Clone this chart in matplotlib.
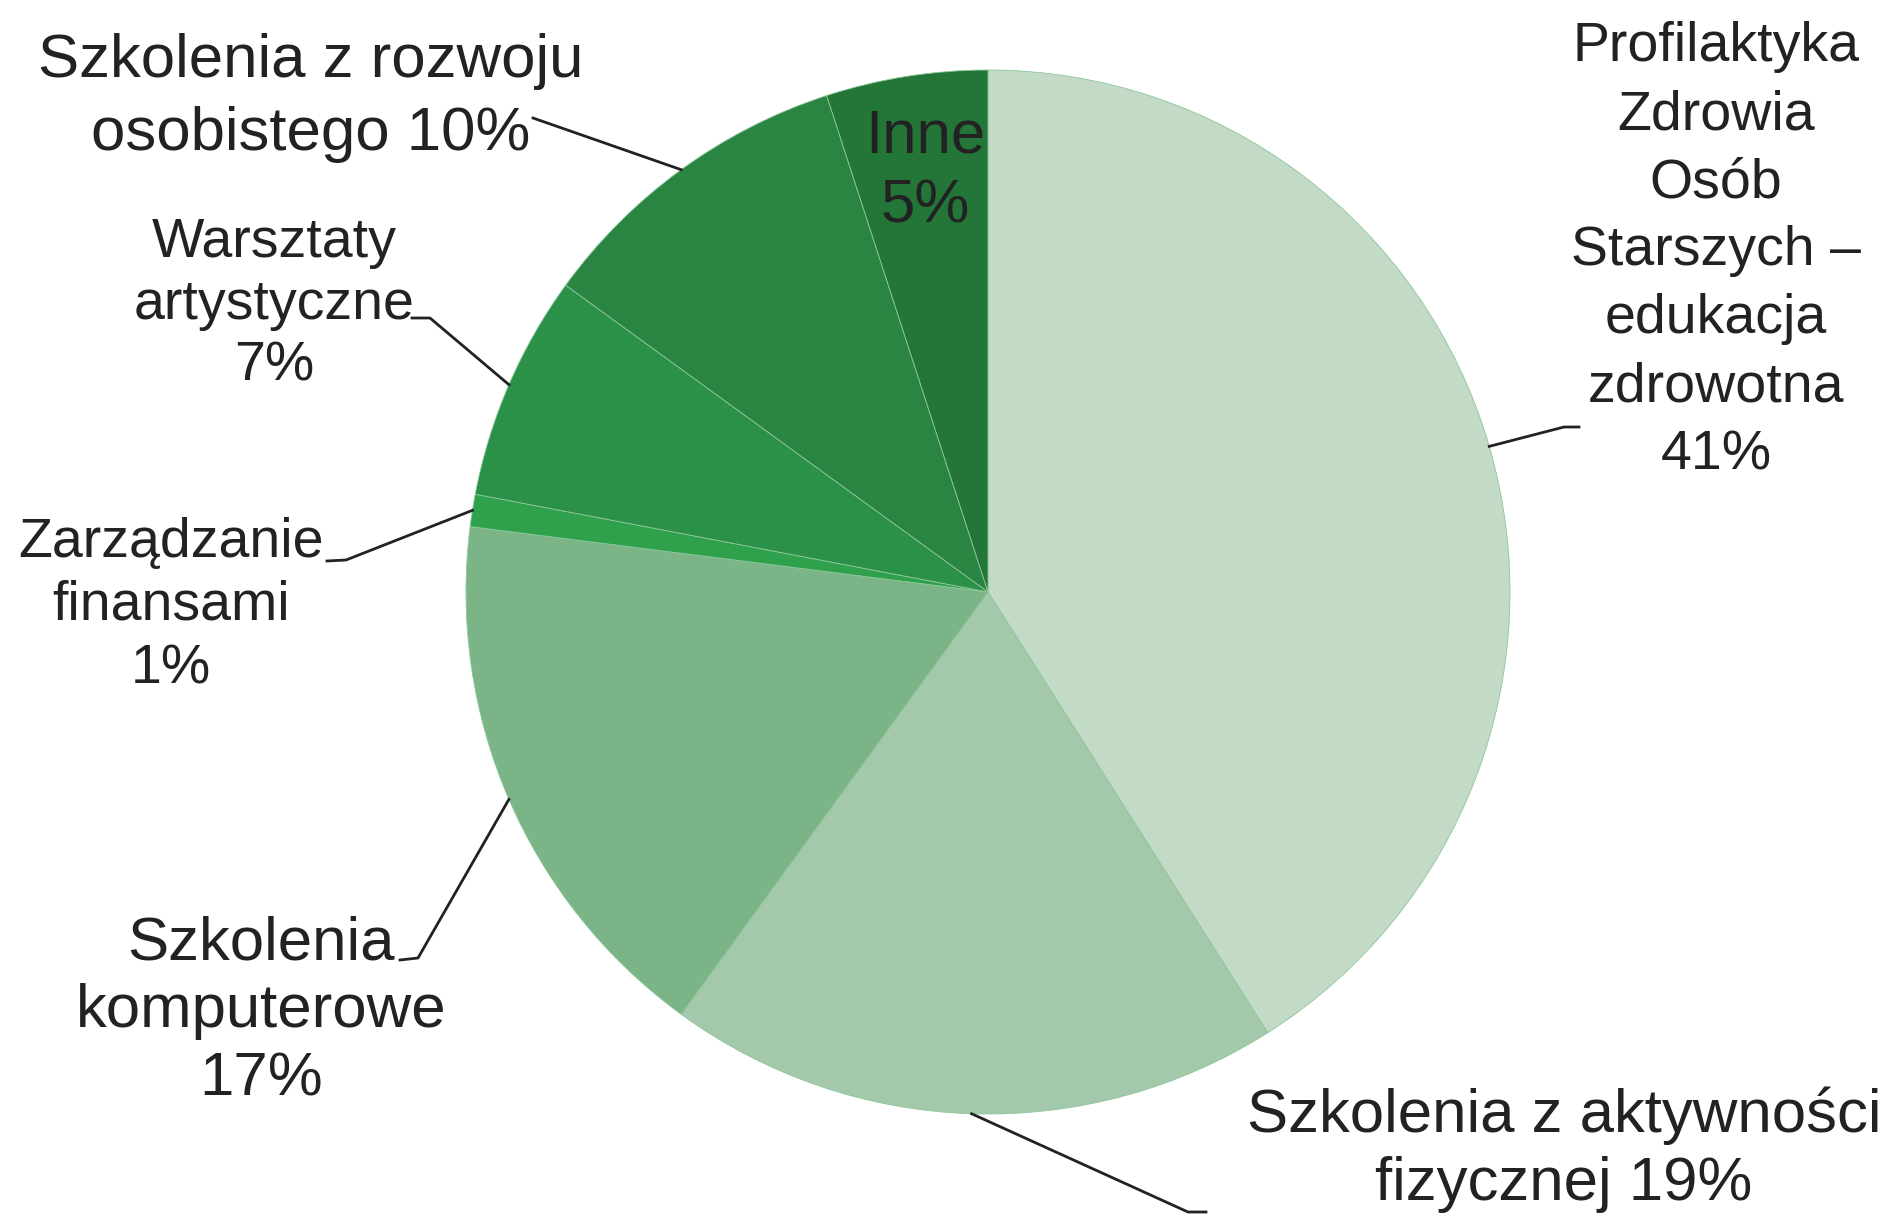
import numpy as np
import matplotlib.pyplot as plt

# -----------------------------
# Data
# -----------------------------
labels = [
    "Profilaktyka\nZdrowia\nOsób\nStarszych –\nedukacja\nzdrowotna",
    "Szkolenia z aktywności\nfizycznej",
    "Szkolenia\nkomputerowe",
    "Zarządzanie\nfinansami",
    "Warsztaty\nartystyczne",
    "Szkolenia z rozwoju\nosobistego",
    "Inne",
]
shares = [41, 19, 17, 1, 7, 10, 5]
colors = ["#c2dac6", "#a3c9aa", "#7ab487", "#2fa04c", "#2b9148", "#2a8543", "#247538"]

# how the percentage joins the name ("\n" = own line, " " = same line)
joiners = ["\n", " ", "\n", "\n", "\n", " ", "\n"]

# label layout in pixels from the top-left corner: (x, y, fontsize, linespacing)
label_pos = [
    (1716, 251, 40, 1.40),
    (1564, 1150, 44.5, 1.24),
    (261, 1012, 44.5, 1.24),
    (171, 606, 40, 1.28),
    (274, 305, 40, 1.24),
    (311, 98, 44.5, 1.35),
    (925, 172, 44.5, 1.31),
]
# leader line elbows (pixels), drawn from the wedge edge
elbows = [
    [(1564, 427), (1579, 427)],
    [(1188, 1212), (1206, 1212)],
    [(418, 958), (400, 960)],
    [(346, 560), (327, 561)],
    [(430, 318), (412, 318)],
    [(533, 118)],
    None,
]

# -----------------------------
# Figure
# -----------------------------
W, H = 1901, 1217
fig = plt.figure(figsize=(W / 100, H / 100), dpi=100)
ax = fig.add_axes([0, 0, 1, 1])

cx, cy, r = 988, H - 592, 522

wedges, _ = ax.pie(shares, colors=colors, startangle=90, counterclock=False,
                   center=(cx, cy), radius=r, frame=True,
                   wedgeprops=dict(edgecolor="#8cc79a", linewidth=0.6))
ax.set_xlim(0, W)
ax.set_ylim(0, H)
ax.set_aspect("equal")
ax.axis("off")

txt_color = "#222222"
for i, w in enumerate(wedges):
    x, y, fs, ls = label_pos[i]
    text = labels[i] + joiners[i] + f"{shares[i]}%"
    ax.text(x, H - y, text, ha="center", va="center", fontsize=fs,
            family="Liberation Sans", color=txt_color, linespacing=ls)
    if elbows[i] is None:
        continue
    # leader line starts at the middle of the wedge's outer edge
    mid = np.deg2rad((w.theta1 + w.theta2) / 2)
    pts = [(cx + r * np.cos(mid), cy + r * np.sin(mid))]
    pts += [(px, H - py) for px, py in elbows[i]]
    pts = np.array(pts)
    ax.plot(pts[:, 0], pts[:, 1], color="#222222", lw=2)

plt.savefig("out.png", dpi=100)
